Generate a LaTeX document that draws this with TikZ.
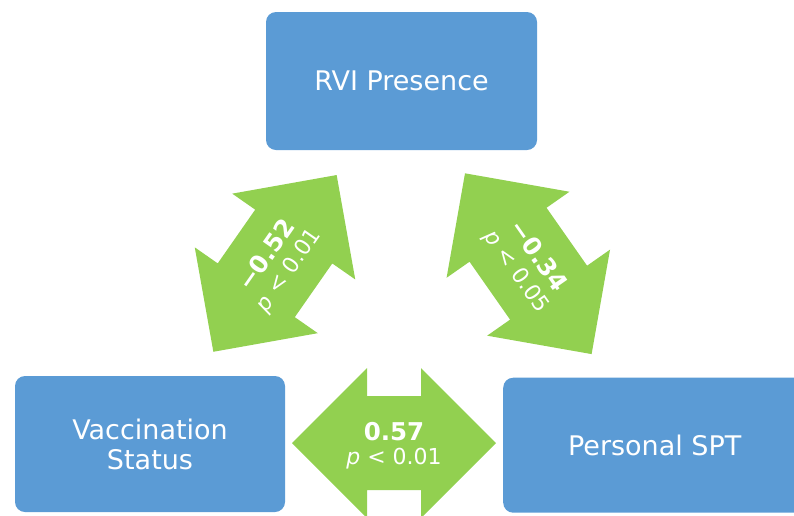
\documentclass[tikz,border=0pt]{standalone}
\usepackage{fontspec}
\setmainfont{DejaVu Sans}
\definecolor{boxblue}{HTML}{5B9BD5}
\definecolor{arrowgreen}{HTML}{92D050}
\begin{document}
\begin{tikzpicture}[x=1pt,y=-1pt,
  factor/.style={draw=none, fill=boxblue, rounded corners=10pt, inner sep=0pt,
    text=white, align=center, font=\fontsize{27}{30}\selectfont},
  stat/.style={text=white, align=center, inner sep=0pt,
    font=\fontsize{22}{25}\selectfont},
  coef/.style={font=\fontsize{24.5}{25}\selectfont\bfseries},
  pics/dblarrow/.style={code={
    % double-headed block arrow: half length #1, heads 75 long and 150 wide, shaft 94 wide
    \fill[arrowgreen] (-#1,0) -- (-#1+75,-75) -- (-#1+75,-47) -- (#1-75,-47)
      -- (#1-75,-75) -- (#1,0) -- (#1-75,75) -- (#1-75,47) -- (-#1+75,47)
      -- (-#1+75,75) -- cycle;
  }}]
\useasboundingbox (0,0) rectangle (794,515);
\clip (0,0) rectangle (794,515);

% factors
\node[factor, minimum width=271pt, minimum height=138pt] (rvi) at (401.5,81) {RVI Presence};
\node[factor, minimum width=270pt, minimum height=136pt] (vacc) at (150,444) {Vaccination\\Status};
\node[factor, minimum width=303pt, minimum height=135pt] (spt) at (654.7,445.2) {Personal SPT};

% correlations
\pic[rotate=55.1] (arrowleft) at (275,263.4) {dblarrow=107.75};
\pic[rotate=-55] (arrowright) at (528.3,263.7) {dblarrow=110.35};
\pic (arrowbottom) at (394,443) {dblarrow=102};

\node[stat, rotate=55.1] (rleft) at (278,263) {{\fontsize{24.5}{25}\selectfont\bfseries −0.52}\\{\itshape p} < 0.01};
\node[stat, rotate=-55] (rright) at (527,264) {{\fontsize{24.5}{25}\selectfont\bfseries −0.34}\\{\itshape p} < 0.05};
\node[stat, font=\fontsize{22}{24}\selectfont] (rbottom) at (394,446) {{\fontsize{24.5}{24}\selectfont\bfseries 0.57}\\{\itshape p} < 0.01};
\end{tikzpicture}
\end{document}
